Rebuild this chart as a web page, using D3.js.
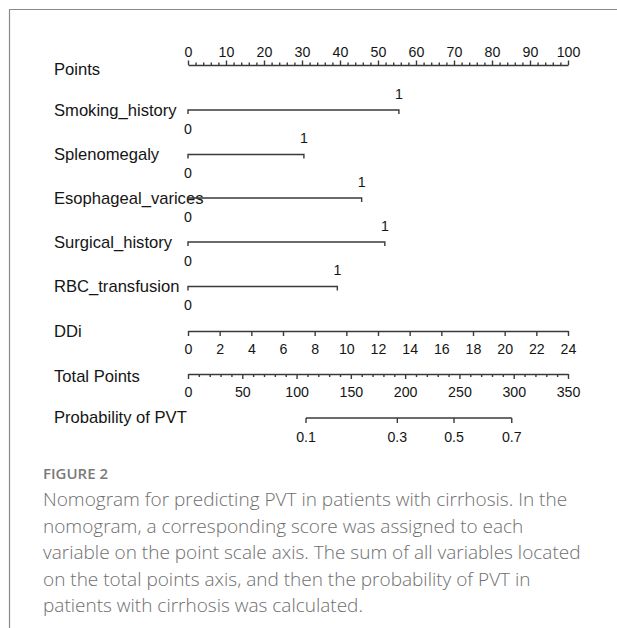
<!DOCTYPE html>
<html>
<head>
<meta charset="utf-8">
<script src="https://cdn.jsdelivr.net/npm/d3@7"></script>
<style>
  html, body { margin: 0; padding: 0; background: #fff; }
  svg { display: block; }
</style>
</head>
<body>
<svg id="chart" width="617" height="628"></svg>
<script>
// Nomogram: binary predictors (points at level 1), D-dimer scale, total points, probability.
const pointTicks = [0, 10, 20, 30, 40, 50, 60, 70, 80, 90, 100];
const pointMinorTicks = [2, 4, 6, 8, 12, 14, 16, 18, 22, 24, 26, 28, 32, 34, 36, 38, 42, 44, 46, 48,
  52, 54, 56, 58, 62, 64, 66, 68, 72, 74, 76, 78, 82, 84, 86, 88, 92, 94, 96, 98];

const variables = ["Smoking_history", "Splenomegaly", "Esophageal_varices", "Surgical_history", "RBC_transfusion"];
const variableLevels = ["0", "1"];
const variablePoints = [55.5, 30.5, 45.7, 51.8, 39.3];   // points awarded at level 1

const ddiTicks = [0, 2, 4, 6, 8, 10, 12, 14, 16, 18, 20, 22, 24];
const ddiMaxPoints = 100;                                 // DDi = 24 maps to 100 points

const totalTicks = [0, 50, 100, 150, 200, 250, 300, 350];
const totalMinorTicks = [10, 20, 30, 40, 60, 70, 80, 90, 110, 120, 130, 140, 160, 170, 180, 190,
  210, 220, 230, 240, 260, 270, 280, 290, 310, 320, 330, 340];

const probTicks = ["0.1", "0.3", "0.5", "0.7"];
const probTotalPoints = [108.7, 192.8, 245.0, 298.2];     // total points giving each probability

const captionTitle = "FIGURE 2";
const captionLines = [
  "Nomogram for predicting PVT in patients with cirrhosis. In the",
  "nomogram, a corresponding score was assigned to each",
  "variable on the point scale axis. The sum of all variables located",
  "on the total points axis, and then the probability of PVT in",
  "patients with cirrhosis was calculated."
];

const svg = d3.select("#chart");
const ink = "#151515";
const lineCol = "#3a3a3a";
const labelFont = "'Liberation Sans', Arial, sans-serif";

// frame
svg.append("path").attr("d", "M9.5,628 V9.5 H617")
  .attr("fill", "none").attr("stroke", "#8a8a8a").attr("stroke-width", 1.2);

const x0 = 188, x1 = 568;
const xPts = d3.scaleLinear().domain([0, 100]).range([x0, x1]);
const xDdi = d3.scaleLinear().domain([0, 24]).range([xPts(0), xPts(ddiMaxPoints)]);
const xTot = d3.scaleLinear().domain([0, 350]).range([x0, x1]);

const labelX = 54;
function rowLabel(text, y) {
  svg.append("text").attr("x", labelX).attr("y", y)
    .attr("dy", "0.35em")
    .attr("font-family", labelFont).attr("font-size", 16.6).attr("fill", ink)
    .text(text);
}
function styleAxis(g) {
  g.selectAll("path, line").attr("stroke", lineCol).attr("stroke-width", 1.4);
  g.selectAll("text").attr("font-family", labelFont).attr("font-size", 14.2).attr("fill", ink);
}

// Points axis (ticks upward, labels above)
const yPts = 65;
rowLabel("Points", 69);
svg.append("g").attr("transform", `translate(0,${yPts})`)
  .call(d3.axisTop(xPts).tickValues(pointMinorTicks).tickSize(2.5).tickSizeOuter(0).tickFormat(""))
  .call(styleAxis);
svg.append("g").attr("transform", `translate(0,${yPts})`)
  .call(d3.axisTop(xPts).tickValues(pointTicks).tickSize(4.5).tickSizeOuter(0).tickPadding(4).tickFormat(d3.format("d")))
  .call(styleAxis)
  .call(g => g.select(".domain").remove());

// Binary predictors
const rowY = [110, 154.5, 198, 242, 286.5];
variables.forEach((name, i) => {
  const y = rowY[i];
  const xs = d3.scaleOrdinal().domain(variableLevels).range([xPts(0), xPts(variablePoints[i])]);
  rowLabel(name, y);
  const g = svg.append("g");
  g.append("path")
    .attr("d", `M${xs("0")},${y + 4}V${y}H${xs("1")}V${y + 4}`)
    .attr("fill", "none").attr("stroke", lineCol).attr("stroke-width", 1.4);
  g.append("text").attr("x", xs("0")).attr("y", y + 19).attr("dy", "0.35em")
    .attr("text-anchor", "middle").attr("font-family", labelFont).attr("font-size", 14.2).attr("fill", ink)
    .text("0");
  g.append("text").attr("x", xs("1")).attr("y", y - 16).attr("dy", "0.35em")
    .attr("text-anchor", "middle").attr("font-family", labelFont).attr("font-size", 14.2).attr("fill", ink)
    .text("1");
});

// DDi
const yDdi = 331;
rowLabel("DDi", 331);
svg.append("g").attr("transform", `translate(0,${yDdi})`)
  .call(d3.axisBottom(xDdi).tickValues(ddiTicks).tickSize(5).tickSizeOuter(0).tickPadding(8).tickFormat(d3.format("d")))
  .call(styleAxis);

// Total points
const yTot = 374;
rowLabel("Total Points", 376);
svg.append("g").attr("transform", `translate(0,${yTot})`)
  .call(d3.axisBottom(xTot).tickValues(totalMinorTicks).tickSize(3).tickSizeOuter(0).tickFormat(""))
  .call(styleAxis);
svg.append("g").attr("transform", `translate(0,${yTot})`)
  .call(d3.axisBottom(xTot).tickValues(totalTicks).tickSize(5).tickSizeOuter(0).tickPadding(8).tickFormat(d3.format("d")))
  .call(styleAxis)
  .call(g => g.select(".domain").remove());

// Probability of PVT
const yProb = 418;
rowLabel("Probability of PVT", 417);
const xProb = d3.scaleOrdinal().domain(probTicks).range(probTotalPoints.map(v => xTot(v)));
const probG = svg.append("g").attr("transform", `translate(0,${yProb})`);
probG.append("path")
  .attr("d", `M${xProb(probTicks[0])},0H${xProb(probTicks[probTicks.length - 1])}`)
  .attr("stroke", lineCol).attr("stroke-width", 1.4);
probTicks.forEach(p => {
  probG.append("line").attr("x1", xProb(p)).attr("x2", xProb(p)).attr("y1", 0).attr("y2", 5)
    .attr("stroke", lineCol).attr("stroke-width", 1.4);
  probG.append("text").attr("x", xProb(p)).attr("y", 19).attr("dy", "0.35em")
    .attr("text-anchor", "middle").attr("font-family", labelFont).attr("font-size", 14.2).attr("fill", ink)
    .text(p);
});

// Caption
const capFont = "'Open Sans', 'Noto Sans', sans-serif";
svg.append("text").attr("x", 43).attr("y", 479)
  .attr("font-family", capFont).attr("font-size", 15).attr("font-weight", 600).attr("fill", "#7a7a7a")
  .text(captionTitle);
const cap = svg.append("text").attr("font-family", capFont).attr("font-size", 19)
  .attr("font-weight", 300).attr("fill", "#6e6e6e");
captionLines.forEach((t, i) => {
  cap.append("tspan").attr("x", 43).attr("y", 506 + i * 26.5).text(t);
});
</script>
</body>
</html>
